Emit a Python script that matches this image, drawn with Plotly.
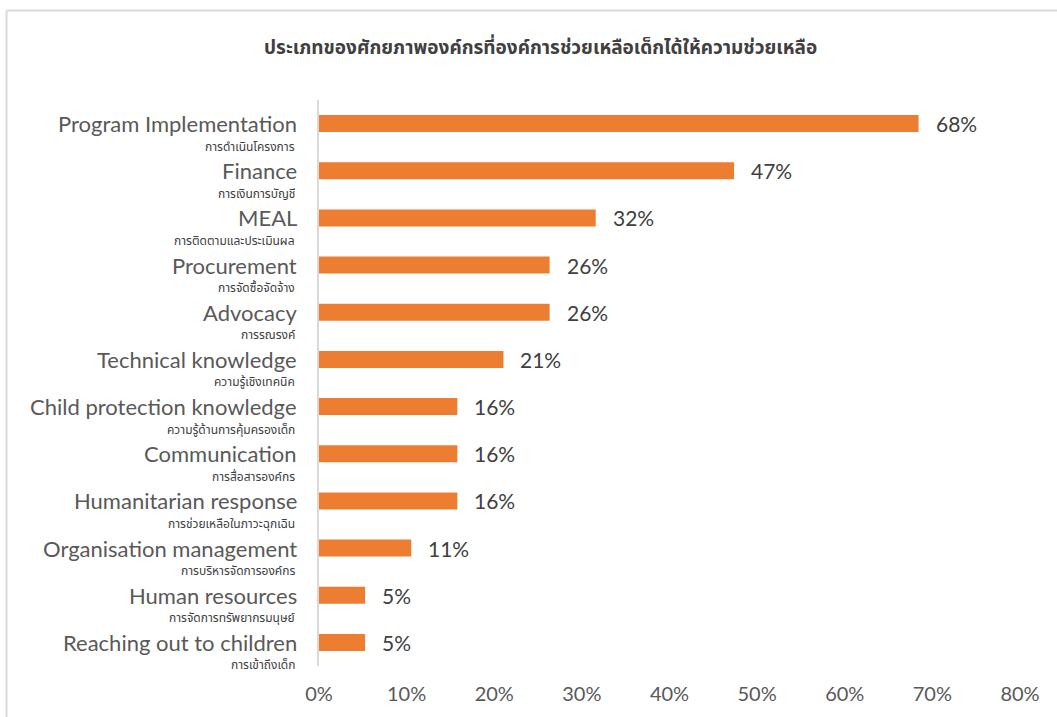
import plotly.graph_objects as go

title_text = "ประเภทของศักยภาพองค์กรที่องค์การช่วยเหลือเด็กได้ให้ความช่วยเหลือ"

categories_en = [
    "Program Implementation",
    "Finance",
    "MEAL",
    "Procurement",
    "Advocacy",
    "Technical knowledge",
    "Child protection knowledge",
    "Communication",
    "Humanitarian response",
    "Organisation management",
    "Human resources",
    "Reaching out to children",
]
categories_th = [
    "การดำเนินโครงการ",
    "การเงินการบัญชี",
    "การติดตามและประเมินผล",
    "การจัดซื้อจัดจ้าง",
    "การรณรงค์",
    "ความรู้เชิงเทคนิค",
    "ความรู้ด้านการคุ้มครองเด็ก",
    "การสื่อสารองค์กร",
    "การช่วยเหลือในภาวะฉุกเฉิน",
    "การบริหารจัดการองค์กร",
    "การจัดการทรัพยากรมนุษย์",
    "การเข้าถึงเด็ก",
]
values = [0.6842, 0.4737, 0.3158, 0.2632, 0.2632, 0.2105, 0.1579, 0.1579, 0.1579, 0.1053, 0.0526, 0.0526]
x_tick_vals = [0, 0.1, 0.2, 0.3, 0.4, 0.5, 0.6, 0.7, 0.8]
x_tick_text = ["0%", "10%", "20%", "30%", "40%", "50%", "60%", "70%", "80%"]

FONT_EN = "Lato, 'Open Sans', sans-serif"
FONT_TH = "'Noto Sans Thai', 'Noto Sans', 'DejaVu Sans', sans-serif"
BAR_COLOR = "#ED7D31"

fig = go.Figure()
fig.add_trace(go.Bar(
    x=values,
    y=categories_en,
    orientation="h",
    marker=dict(color=BAR_COLOR, line=dict(width=0)),
    width=0.36,
    hoverinfo="skip",
))

annotations = []
for en, th, v in zip(categories_en, categories_th, values):
    annotations.append(dict(
        x=0, xref="paper", y=en, yref="y", text=en, showarrow=False,
        xanchor="right", yanchor="middle", xshift=-20, yshift=0,
        font=dict(family=FONT_EN, size=22, color="#595959"),
    ))
    annotations.append(dict(
        x=0, xref="paper", y=en, yref="y", text=th, showarrow=False,
        xanchor="right", yanchor="middle", xshift=-22, yshift=-23,
        font=dict(family=FONT_TH, size=12, color="#404040"),
    ))
    annotations.append(dict(
        x=v, xref="x", y=en, yref="y", text=f"{int(v * 100 + 0.5):d}%", showarrow=False,
        xanchor="left", yanchor="middle", xshift=15,
        font=dict(family=FONT_EN, size=21, color="#404040"),
    ))

annotations.append(dict(
    x=(540 - 319) / 701, xref="paper", y=(666 - 48) / 566, yref="paper",
    xanchor="center", yanchor="middle",
    text=f"<b>{title_text}</b>", showarrow=False,
    font=dict(family=FONT_TH, size=19, color="#404040"),
))

n_cat = len(categories_en)

fig.update_layout(
    width=1057, height=717,
    margin=dict(l=319, r=37, t=100, b=51, autoexpand=False),
    paper_bgcolor="white", plot_bgcolor="white",
    showlegend=False,
    annotations=annotations,
    xaxis=dict(
        range=[0, 0.8], tickvals=x_tick_vals, ticktext=x_tick_text,
        showgrid=False, zeroline=False, showline=False, ticks="",
        tickfont=dict(family=FONT_EN, size=20, color="#595959"),
        ticklabelstandoff=14, automargin=False,
    ),
    yaxis=dict(
        categoryorder="array", categoryarray=categories_en,
        range=[n_cat - 0.5, -0.5], autorange=False,
        showticklabels=False, ticks="", automargin=False,
        showgrid=False, zeroline=False, showline=True, linecolor="#d9d9d9", linewidth=2,
    ),
    shapes=[
        dict(type="line", xref="paper", yref="paper",
             x0=(6.5 - 319) / 701, x1=(1060 - 319) / 701,
             y0=(666 - 10.5) / 566, y1=(666 - 10.5) / 566,
             line=dict(color="#d9d9d9", width=2)),
        dict(type="line", xref="paper", yref="paper",
             x0=(6.5 - 319) / 701, x1=(6.5 - 319) / 701,
             y0=(666 - 10.5) / 566, y1=(666 - 720) / 566,
             line=dict(color="#d9d9d9", width=2)),
    ],
)

fig.write_html(
    "out.html",
    config={"displayModeBar": False},
    post_script="document.body.style.margin='0';document.body.style.overflow='hidden';",
)
